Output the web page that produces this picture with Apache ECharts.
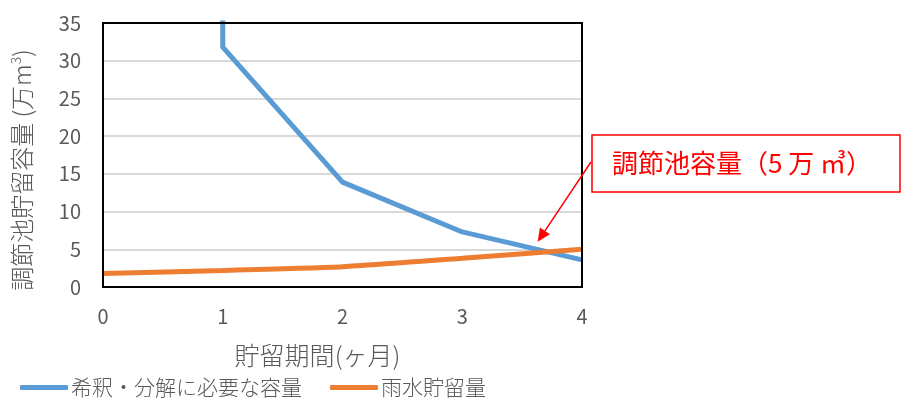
<!DOCTYPE html>
<html>
<head>
<meta charset="utf-8">
<script src="https://cdn.jsdelivr.net/npm/echarts@6/dist/echarts.min.js"></script>
<style>
  html, body { margin: 0; padding: 0; background: #fff; }
  #chart { width: 901px; height: 403px; }
</style>
</head>
<body>
<div id="chart"></div>
<script>
// 貯留期間 (ヶ月) と容量 (万m3)
const dilutionMonths = [1, 1, 2, 3, 4];
const dilutionVolume = [60, 31.8, 13.9, 7.3, 3.6];
const rainMonths = [0, 1, 2, 3, 4];
const rainVolume = [1.8, 2.2, 2.7, 3.8, 5.0];
const xTicks = [0, 1, 2, 3, 4];
const yTicks = [0, 5, 10, 15, 20, 25, 30, 35];
const seriesNames = ['希釈・分解に必要な容量', '雨水貯留量'];
const calloutText = '調節池容量（5 万 ㎥）';
const calloutTarget = [3.63, 6.0];

const font = '"Noto Sans CJK JP", "Noto Sans", sans-serif';
const grey = '#595959';

const chart = echarts.init(document.getElementById('chart'));

chart.setOption({
  animation: false,
  textStyle: { fontFamily: font },
  grid: { left: 103, top: 23, right: 319, bottom: 116, containLabel: false, outerBoundsMode: 'none' },
  xAxis: {
    type: 'value',
    min: xTicks[0],
    max: xTicks[xTicks.length - 1],
    interval: 1,
    name: '貯留期間(ヶ月)',
    nameLocation: 'middle',
    nameGap: 56,
    nameTextStyle: { color: grey, fontSize: 25, fontWeight: 300, padding: [0, 50, 0, 0] },
    axisLine: { show: false },
    axisTick: { show: false },
    axisLabel: { color: grey, fontSize: 20, margin: 19 },
    splitLine: { show: false }
  },
  yAxis: {
    type: 'value',
    min: yTicks[0],
    max: yTicks[yTicks.length - 1],
    interval: 5,
    name: '調節池貯留容量 (万m{sup|3})',
    nameLocation: 'middle',
    nameRotate: 90,
    nameGap: 68,
    nameTextStyle: {
      color: grey, fontSize: 24, fontWeight: 300, padding: [0, 30, 0, 0],
      rich: { sup: { fontSize: 14, color: grey, verticalAlign: 'top', padding: [0, 0, 12, 0] } }
    },
    axisLine: { show: false },
    axisTick: { show: false },
    axisLabel: { color: grey, fontSize: 20, margin: 22 },
    splitLine: { show: true, lineStyle: { color: '#d9d9d9', width: 2 } }
  },
  legend: {
    bottom: 0,
    left: 15,
    itemWidth: 48,
    itemHeight: 5,
    itemGap: 28,
    icon: 'roundRect',
    textStyle: { color: grey, fontSize: 21, fontWeight: 300, padding: [0, 0, 0, -2] },
    data: seriesNames
  },
  series: [
    {
      name: seriesNames[0],
      type: 'line',
      data: dilutionMonths.map((m, i) => [m, dilutionVolume[i]]),
      clip: true,
      showSymbol: false,
      lineStyle: { color: '#5b9bd5', width: 5 },
      itemStyle: { color: '#5b9bd5' },
      z: 3
    },
    {
      name: seriesNames[1],
      type: 'line',
      data: rainMonths.map((m, i) => [m, rainVolume[i]]),
      smooth: 0.2,
      clip: true,
      showSymbol: false,
      lineStyle: { color: '#ed7d31', width: 5 },
      itemStyle: { color: '#ed7d31' },
      z: 4
    }
  ]
});

// plot frame and callout
const tl = chart.convertToPixel({ gridIndex: 0 }, [xTicks[0], yTicks[yTicks.length - 1]]);
const br = chart.convertToPixel({ gridIndex: 0 }, [xTicks[xTicks.length - 1], yTicks[0]]);
const tip = chart.convertToPixel({ gridIndex: 0 }, calloutTarget);
const box = { x: 592, y: 135, w: 308, h: 57 };
const start = [box.x - 1, box.y + 27];
const ang = Math.atan2(tip[1] - start[1], tip[0] - start[0]);
const headLen = 13, headHalf = 6;
const bx = tip[0] - headLen * Math.cos(ang), by = tip[1] - headLen * Math.sin(ang);
const px = -Math.sin(ang) * headHalf, py = Math.cos(ang) * headHalf;

chart.setOption({
  graphic: [
    {
      type: 'rect',
      shape: { x: tl[0], y: tl[1], width: br[0] - tl[0], height: br[1] - tl[1] },
      style: { fill: null, stroke: '#000', lineWidth: 2 },
      z: 10
    },
    {
      type: 'line',
      shape: { x1: start[0], y1: start[1], x2: bx, y2: by },
      style: { stroke: '#ff0000', lineWidth: 1.5 },
      z: 11
    },
    {
      type: 'polygon',
      shape: { points: [[tip[0], tip[1]], [bx + px, by + py], [bx - px, by - py]] },
      style: { fill: '#ff0000' },
      z: 11
    },
    {
      type: 'rect',
      shape: { x: box.x, y: box.y, width: box.w, height: box.h },
      style: { fill: '#fff', stroke: '#ff0000', lineWidth: 1.5 },
      z: 11
    },
    {
      type: 'text',
      x: box.x + 20,
      y: box.y + box.h / 2,
      style: {
        text: calloutText,
        fill: '#ff0000',
        font: '26px ' + font,
        verticalAlign: 'middle'
      },
      z: 12
    }
  ]
});
</script>
</body>
</html>
